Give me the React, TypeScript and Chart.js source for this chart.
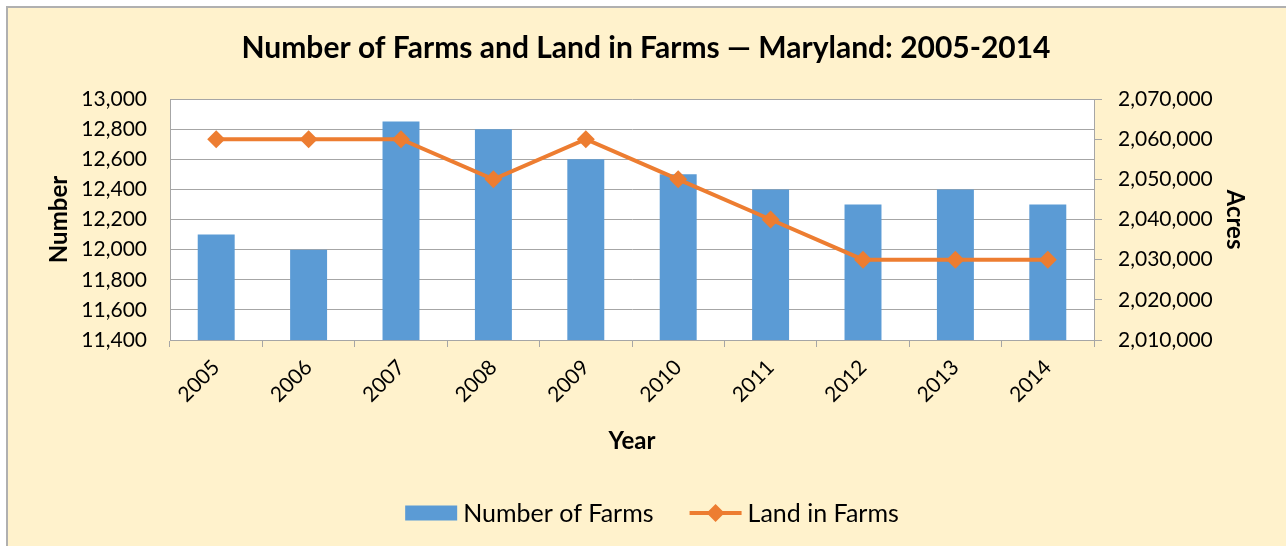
import React, { useEffect, useRef } from 'react';
import { Chart, registerables } from 'chart.js';

Chart.register(...registerables);

const years = ['2005', '2006', '2007', '2008', '2009', '2010', '2011', '2012', '2013', '2014'];
const numberOfFarms = [12100, 12000, 12850, 12800, 12600, 12500, 12400, 12300, 12400, 12300];
const landInFarms = [2060000, 2060000, 2060000, 2050000, 2060000, 2050000, 2040000, 2030000, 2030000, 2030000];
const leftAxis = { min: 11400, max: 13000, step: 200 };
const rightAxis = { min: 2010000, max: 2070000, step: 10000 };
const titleText = 'Number of Farms and Land in Farms \u2014 Maryland: 2005-2014';
const seriesNames = ['Number of Farms', 'Land in Farms'];

const FONT = 'Lato, "Open Sans", sans-serif';
const BLUE = '#5B9BD5';
const ORANGE = '#ED7D31';
const GRID = '#A6A6A6';
const TEXT = '#000000';

const fmt = (v: number | string) => Number(v).toLocaleString('en-US');

export default function App() {
  const ref = useRef<HTMLCanvasElement | null>(null);

  useEffect(() => {
    if (!ref.current) return;

    const plotBg = {
      id: 'plotBg',
      beforeDraw(chart: any) {
        const { ctx, chartArea } = chart;
        ctx.save();
        ctx.fillStyle = '#FFFFFF';
        ctx.fillRect(chartArea.left, chartArea.top, chartArea.right - chartArea.left, chartArea.bottom - chartArea.top);
        ctx.restore();
      },
    };

    const titleLegend = {
      id: 'titleLegend',
      afterDraw(chart: any) {
        const { ctx } = chart;
        ctx.save();
        // Title
        ctx.fillStyle = TEXT;
        ctx.font = `bold 30px ${FONT}`;
        ctx.textAlign = 'center';
        ctx.textBaseline = 'middle';
        ctx.fillText(titleText, 646, 48);

        // Legend
        ctx.font = `25px ${FONT}`;
        ctx.textAlign = 'left';
        const ds = chart.data.datasets;
        const sw = 52;
        const gap = 6;
        const between = 36;
        const w0 = ctx.measureText(ds[0].label).width;
        const w1 = ctx.measureText(ds[1].label).width;
        const total = sw + gap + w0 + between + sw + gap + w1;
        let x = 652 - total / 2;
        const y = 513;
        ctx.fillStyle = ds[0].backgroundColor;
        ctx.fillRect(x, y - 7.5, sw, 15);
        ctx.fillStyle = TEXT;
        ctx.fillText(ds[0].label, x + sw + gap, y + 1);
        x += sw + gap + w0 + between;
        ctx.strokeStyle = ds[1].borderColor;
        ctx.lineWidth = 4;
        ctx.beginPath();
        ctx.moveTo(x, y);
        ctx.lineTo(x + sw, y);
        ctx.stroke();
        ctx.fillStyle = ds[1].borderColor;
        ctx.beginPath();
        const cx = x + sw / 2;
        const r = 9;
        ctx.moveTo(cx, y - r);
        ctx.lineTo(cx + r, y);
        ctx.lineTo(cx, y + r);
        ctx.lineTo(cx - r, y);
        ctx.closePath();
        ctx.fill();
        ctx.fillStyle = TEXT;
        ctx.fillText(ds[1].label, x + sw + gap, y + 1);
        ctx.restore();
      },
    };

    const chart = new Chart(ref.current, {
      type: 'bar',
      data: {
        labels: years,
        datasets: [
          {
            type: 'bar',
            label: seriesNames[0],
            data: numberOfFarms,
            backgroundColor: BLUE,
            borderWidth: 0,
            barPercentage: 0.4,
            categoryPercentage: 1,
            yAxisID: 'y',
            order: 2,
          },
          {
            type: 'line',
            label: seriesNames[1],
            data: landInFarms,
            borderColor: ORANGE,
            backgroundColor: ORANGE,
            borderWidth: 4,
            pointStyle: 'rectRot',
            pointRadius: 9,
            pointBackgroundColor: ORANGE,
            pointBorderColor: ORANGE,
            pointBorderWidth: 0,
            tension: 0,
            yAxisID: 'y1',
            order: 1,
          },
        ],
      },
      options: {
        responsive: false,
        animation: false,
        maintainAspectRatio: false,
        layout: { padding: { top: 99, bottom: 86, left: 0, right: 0 } },
        plugins: {
          legend: { display: false },
          title: { display: false },
          tooltip: { enabled: false },
        },
        scales: {
          x: {
            offset: true,
            grid: {
              offset: true,
              drawOnChartArea: false,
              drawTicks: true,
              tickLength: 7,
              color: GRID,
            },
            border: { display: true, color: GRID, width: 1 },
            ticks: {
              color: TEXT,
              font: { family: FONT, size: 21 },
              minRotation: 45,
              maxRotation: 45,
              padding: 8,
              autoSkip: false,
            },
            title: {
              display: true,
              text: 'Year',
              color: TEXT,
              font: { family: FONT, size: 24, weight: 'bold' },
              padding: { top: 0, bottom: 4 },
            },
            afterFit(scale: any) {
              scale.height = 120;
            },
          },
          y: {
            position: 'left',
            min: leftAxis.min,
            max: leftAxis.max,
            grid: { color: GRID, lineWidth: 1, drawTicks: false },
            border: { display: true, color: GRID, width: 1 },
            ticks: {
              stepSize: leftAxis.step,
              color: TEXT,
              font: { family: FONT, size: 21 },
              padding: 23,
              callback: (v: any) => fmt(v),
            },
            title: {
              display: true,
              text: 'Number',
              color: TEXT,
              font: { family: FONT, size: 24, weight: 'bold' },
              padding: { top: 45, bottom: 0 },
            },
            afterFit(scale: any) {
              scale.width = 170;
            },
          },
          y1: {
            position: 'right',
            min: rightAxis.min,
            max: rightAxis.max,
            grid: { drawOnChartArea: false, drawTicks: true, tickLength: 8, color: GRID },
            border: { display: true, color: GRID, width: 1 },
            ticks: {
              stepSize: rightAxis.step,
              color: TEXT,
              font: { family: FONT, size: 21 },
              padding: 16,
              callback: (v: any) => fmt(v),
            },
            title: {
              display: true,
              text: 'Acres',
              color: TEXT,
              font: { family: FONT, size: 24, weight: 'bold' },
              padding: { top: 37, bottom: 0 },
            },
            afterFit(scale: any) {
              scale.width = 192;
            },
          },
        },
      } as any,
      plugins: [plotBg, titleLegend],
    });

    return () => chart.destroy();
  }, []);

  return (
    <div style={{ position: 'fixed', left: 0, top: 0, width: 1286, height: 546, background: '#FFFFFF', overflow: 'hidden' }}>
      <div
        style={{
          position: 'absolute',
          left: 6,
          top: 6,
          width: 1300,
          height: 560,
          background: '#FFF2CC',
          borderTop: '2px solid #B0B0B0',
          borderLeft: '2px solid #B0B0B0',
        }}
      />
      <canvas ref={ref} width={1286} height={546} style={{ position: 'absolute', left: 0, top: 0, width: 1286, height: 546 }} />
    </div>
  );
}
